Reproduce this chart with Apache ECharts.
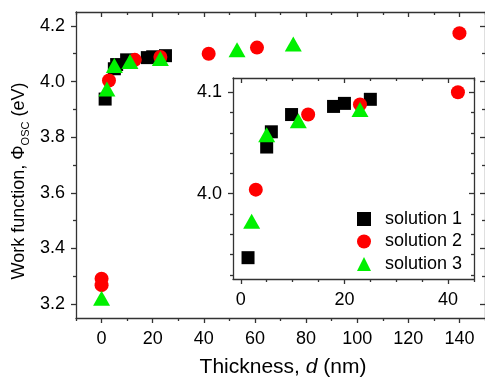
<!DOCTYPE html>
<html>
<head>
<meta charset="utf-8">
<script src="https://cdn.jsdelivr.net/npm/echarts@6/dist/echarts.min.js"></script>
<style>
  html, body { margin: 0; padding: 0; background: #fff; }
  #chart { width: 485px; height: 382px; }
</style>
</head>
<body>
<div id="chart"></div>
<script>
// solution 1, black squares
const sol1X = [1.4, 5.0, 5.9, 9.8, 17.9, 20.0, 25.0]
const sol1Y = [3.937, 4.046, 4.061, 4.078, 4.086, 4.089, 4.093]
// solution 2, red circles
const sol2X = [0, 0, 2.9, 13.0, 23.0, 41.9, 60.8, 140]
const sol2Y = [3.291, 3.268, 4.004, 4.078, 4.088, 4.100, 4.122, 4.174]
// solution 3, green triangles
const sol3X = [0, 2.1, 5.0, 11.1, 23.0, 53.0, 75.0]
const sol3Y = [3.221, 3.973, 4.058, 4.072, 4.083, 4.114, 4.135]

const seriesNames = ['solution 1', 'solution 2', 'solution 3']

// tick labels
const mainXTicks = [0, 20, 40, 60, 80, 100, 120, 140]
const mainXMinor = [-10, 10, 30, 50, 70, 90, 110, 130, 150]
const mainYTicks = [3.2, 3.4, 3.6, 3.8, 4.0, 4.2]
const mainYMinor = [3.3, 3.5, 3.7, 3.9, 4.1]
const insetXTicks = [0, 20, 40]
const insetXMinor = [5, 10, 15, 25, 30, 35, 45]
const insetYTicks = [4.0, 4.1]
const insetYMinor = [3.92, 3.94, 3.96, 3.98, 4.02, 4.04, 4.06, 4.08]

const FONT = '"Liberation Sans", Arial, sans-serif'
const LINE = { color: '#333', width: 1.3 }

const pairs = (xs, ys) => xs.map((x, i) => [x, ys[i]])

// four axes per side pair: labelled + minor, mirrored with inward ticks
function axisSet(kind, gridIndex, min, max, major, minor, fmt) {
  const [p1, p2] = kind === 'x' ? ['bottom', 'top'] : ['left', 'right']
  const base = {
    type: 'value', gridIndex, min, max,
    splitLine: { show: false },
    axisLine: { show: false, onZero: false, lineStyle: LINE },
    axisLabel: { show: false }
  }
  return [
    {
      ...base, position: p1,
      axisLine: { show: true, onZero: false, lineStyle: LINE },
      axisTick: { customValues: major, length: 5, inside: false, lineStyle: LINE },
      axisLabel: {
        show: true, customValues: major, margin: kind === 'x' ? 12 : 11, fontSize: 18,
        color: '#000', fontFamily: FONT, formatter: fmt
      }
    },
    { ...base, position: p1, axisTick: { customValues: minor, length: 3, inside: false, lineStyle: LINE } },
    {
      ...base, position: p2,
      axisLine: { show: true, onZero: false, lineStyle: LINE },
      axisTick: { customValues: major, length: 5, inside: true, lineStyle: LINE }
    },
    { ...base, position: p2, axisTick: { customValues: minor, length: 3, inside: true, lineStyle: LINE } }
  ]
}

const fmtX = v => String(v)
const fmtY = v => v.toFixed(1)

const markers = [
  { symbol: 'rect', symbolSize: 13, color: '#000000' },
  { symbol: 'circle', symbolSize: 14, color: '#ff0000' },
  { symbol: 'triangle', symbolSize: [17, 15], color: '#00f000' }
]
const data = [pairs(sol1X, sol1Y), pairs(sol2X, sol2Y), pairs(sol3X, sol3Y)]

const series = []
;[0, 4].forEach(axisIdx => {
  data.forEach((d, i) => {
    series.push({
      name: seriesNames[i],
      type: 'scatter',
      xAxisIndex: axisIdx,
      yAxisIndex: axisIdx,
      symbol: markers[i].symbol,
      symbolSize: markers[i].symbolSize,
      itemStyle: { color: markers[i].color, opacity: 1 },
      clip: true,
      data: d
    })
  })
})

const chart = echarts.init(document.getElementById('chart'))
chart.setOption({
  animation: false,
  backgroundColor: '#fff',
  grid: [
    { left: 76, top: 12, width: 413, height: 306 },
    { left: 233, top: 78, width: 241, height: 201, show: true, backgroundColor: '#fff', borderWidth: 0 }
  ],
  xAxis: [
    ...axisSet('x', 0, -10, 150, mainXTicks, mainXMinor, fmtX),
    ...axisSet('x', 1, -1.5, 45, insetXTicks, insetXMinor, fmtX)
  ],
  yAxis: [
    ...axisSet('y', 0, 3.15, 4.25, mainYTicks, mainYMinor, fmtY),
    ...axisSet('y', 1, 3.916, 4.114, insetYTicks, insetYMinor, fmtY)
  ],
  legend: {
    orient: 'vertical',
    left: 352,
    top: 203,
    itemWidth: 14,
    itemHeight: 14,
    itemGap: 0.5,
    textStyle: { fontSize: 18, fontFamily: FONT, color: '#000', lineHeight: 22, padding: [0, 0, 0, 9] },
    data: seriesNames
  },
  graphic: [
    {
      type: 'text', x: 19, y: 181, rotation: Math.PI / 2,
      style: {
        text: 'Work function, Φ{sub|OSC} (eV)',
        fontSize: 18, fontFamily: FONT, fill: '#000',
        align: 'center', verticalAlign: 'middle', lineHeight: 24,
        rich: { sub: { fontSize: 11, fontFamily: FONT, lineHeight: 12, verticalAlign: 'bottom' } }
      }
    },
    {
      type: 'text', x: 283, y: 367,
      style: {
        text: 'Thickness, {i|d} (nm)',
        fontSize: 21, fontFamily: FONT, fill: '#000',
        align: 'center', verticalAlign: 'middle',
        rich: { i: { fontSize: 21, fontFamily: FONT, fontStyle: 'italic' } }
      }
    }
  ],
  series
})
</script>
</body>
</html>
